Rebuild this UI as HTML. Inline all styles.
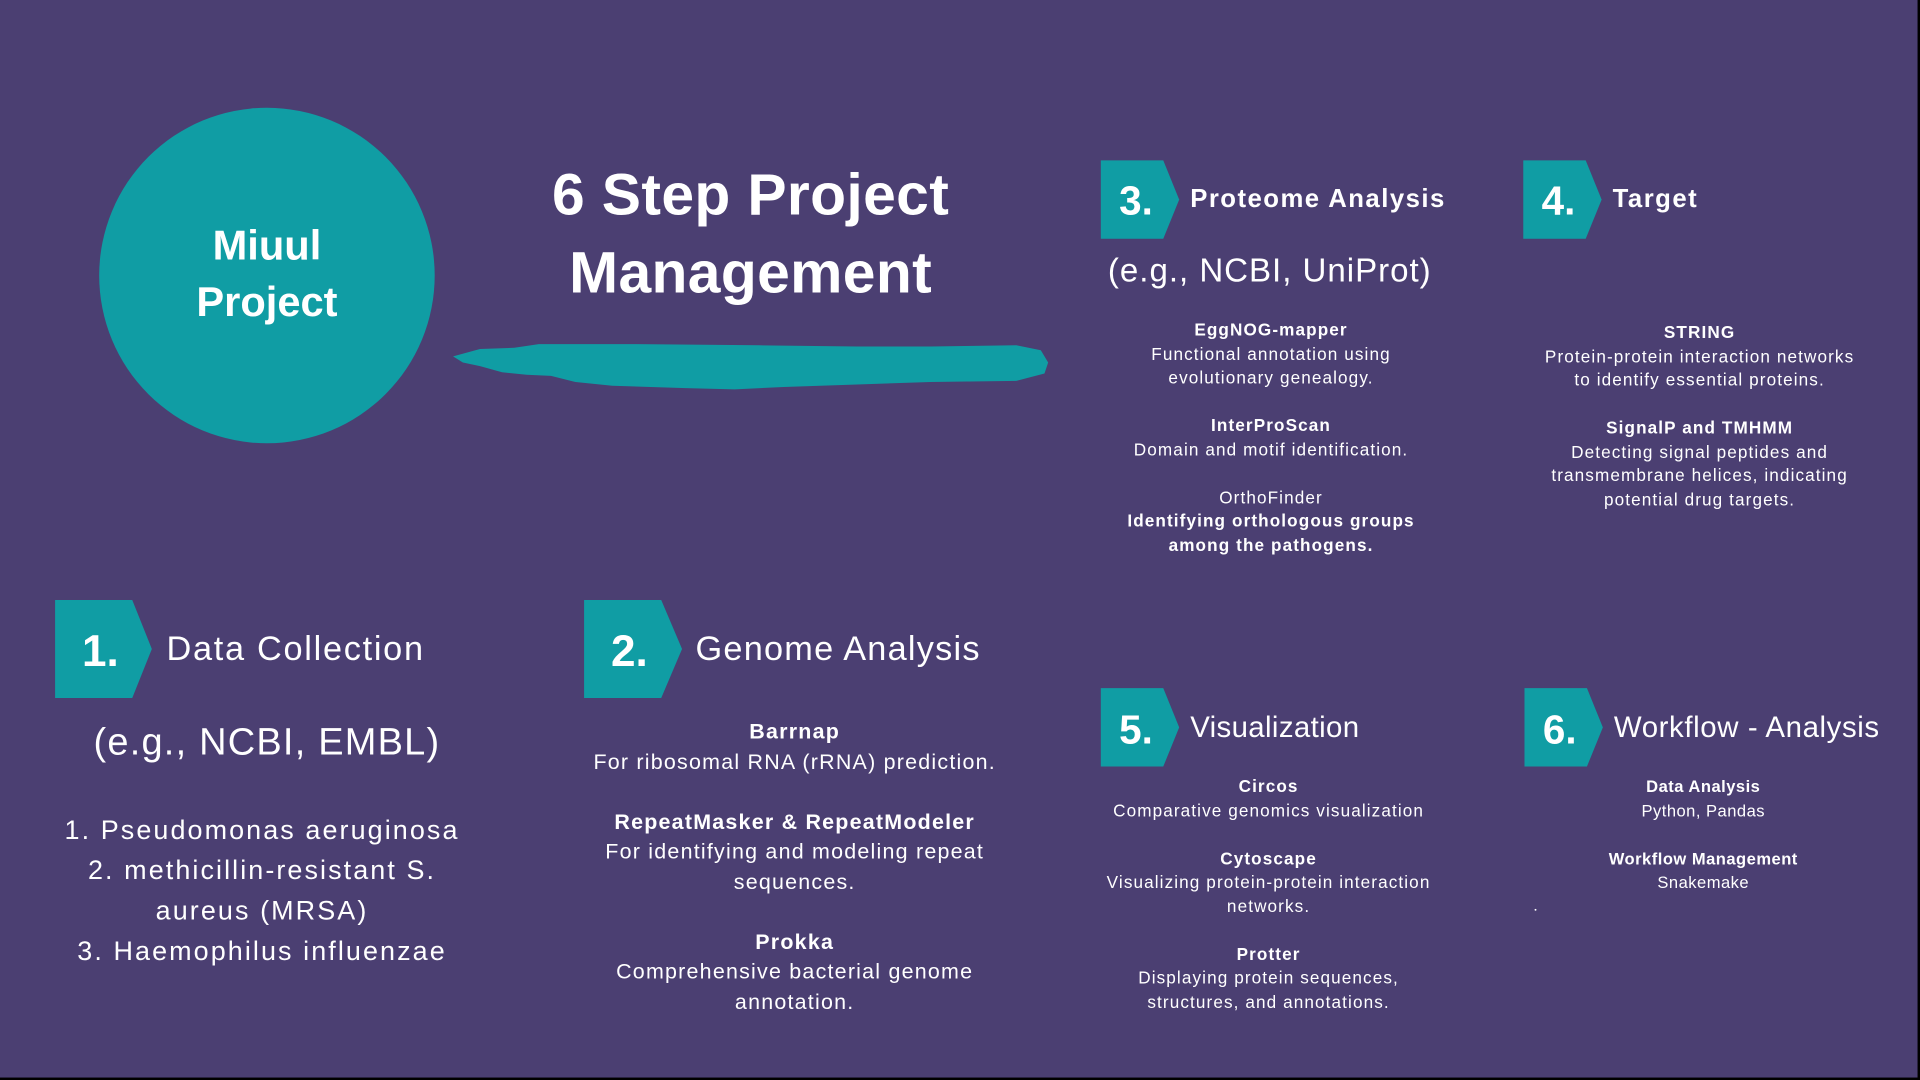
<!DOCTYPE html>
<html><head><meta charset="utf-8">
<style>
html,body{margin:0;padding:0;width:1920px;height:1080px;overflow:hidden;background:#000;}
#s{position:absolute;left:0;top:0;width:1566px;height:880px;background:#4b3f72;transform:scale(1.22449);transform-origin:0 0;font-family:"Liberation Sans",sans-serif;color:#fff;}
.a{position:absolute;white-space:nowrap;}
.c{position:absolute;text-align:center;white-space:nowrap;transform:translateX(-50%);}
.sm{font-size:14px;line-height:19.5px;letter-spacing:0.9px;}
.md{font-size:17.5px;line-height:24.5px;letter-spacing:1px;}
b{font-weight:bold;}
.num{position:absolute;font-weight:bold;font-size:34px;color:#fff;}
</style></head><body>
<div id="s">
<svg class="a" style="left:0;top:0" width="1566" height="880">
<circle cx="218" cy="225" r="137" fill="#109da4"/>
<path d="M370 291 L392 285 L420 284 L440 281 L520 281 L620 282 L700 283 L760 283 L830 282 L850 286 L856 296 L853 305 L830 311 L760 312 L700 314 L640 316 L600 318 L560 317 L500 315 L470 312 L450 307 L430 306 L410 304 L392 299 L378 296 Z" fill="#109da4"/>
<g><polygon points="899,131 950,131 963,163 950,195 899,195" fill="#109da4"/></g>
<g><polygon points="1244,131 1295,131 1308,163 1295,195 1244,195" fill="#109da4"/></g>
<g><polygon points="45,490 108,490 124,530 108,570 45,570" fill="#109da4"/></g>
<g><polygon points="477,490 540,490 557,530 540,570 477,570" fill="#109da4"/></g>
<g><polygon points="899,562 950,562 963,594 950,626 899,626" fill="#109da4"/></g>
<g><polygon points="1245,562 1296,562 1309,594 1296,626 1245,626" fill="#109da4"/></g>
<circle cx="1254" cy="743" r="0.8" fill="#fff"/>
</svg>

<div class="num" style="left:914px;top:145px;font-size:33px">3.</div>
<div class="num" style="left:1259px;top:145px;font-size:33px">4.</div>
<div class="num" style="left:67px;top:511px;font-size:36px">1.</div>
<div class="num" style="left:499px;top:511px;font-size:36px">2.</div>
<div class="num" style="left:914px;top:577px;font-size:33px">5.</div>
<div class="num" style="left:1260px;top:577px;font-size:33px">6.</div>

<div class="c" style="left:218px;top:178px;font-size:34px;line-height:46px;font-weight:bold">Miuul<br>Project</div>
<div class="c" style="left:613px;top:128px;font-size:48px;line-height:64px;font-weight:bold;letter-spacing:0.3px">6 Step Project<br>Management</div>

<div class="a" style="left:972px;top:151px;font-size:21px;font-weight:bold;letter-spacing:1.2px">Proteome Analysis</div>
<div class="a" style="left:1317px;top:151px;font-size:21px;font-weight:bold;letter-spacing:1.2px">Target</div>
<div class="a" style="left:136px;top:514px;font-size:28px;letter-spacing:1.4px">Data Collection</div>
<div class="a" style="left:568px;top:514px;font-size:28px;letter-spacing:1px">Genome Analysis</div>
<div class="a" style="left:972px;top:581px;font-size:24px;letter-spacing:0.3px">Visualization</div>
<div class="a" style="left:1318px;top:581px;font-size:24px;letter-spacing:0.5px">Workflow - Analysis</div>

<div class="c" style="left:1037px;top:206px;font-size:27px;letter-spacing:0.8px">(e.g., NCBI, UniProt)</div>
<div class="c" style="left:218px;top:588px;font-size:31px;letter-spacing:1px">(e.g., NCBI, EMBL)</div>

<div class="c sm" style="left:1038px;top:260px"><b>EggNOG-mapper</b><br>Functional annotation using<br>evolutionary genealogy.<br><div style="height:19.5px"></div><b>InterProScan</b><br>Domain and motif identification.<br><div style="height:19.5px"></div>OrthoFinder<br><b>Identifying orthologous groups<br>among the pathogens.</b></div>

<div class="c sm" style="left:1388px;top:262px"><b>STRING</b><br>Protein-protein interaction networks<br>to identify essential proteins.<br><div style="height:19.5px"></div><b>SignalP and TMHMM</b><br>Detecting signal peptides and<br>transmembrane helices, indicating<br>potential drug targets.</div>

<div class="c md" style="left:649px;top:585px"><b>Barrnap</b><br>For ribosomal RNA (rRNA) prediction.<br><div style="height:24.5px"></div><b>RepeatMasker &amp; RepeatModeler</b><br>For identifying and modeling repeat<br>sequences.<br><div style="height:24.5px"></div><b>Prokka</b><br>Comprehensive bacterial genome<br>annotation.</div>

<div class="c" style="left:214px;top:661px;font-size:22px;line-height:33px;letter-spacing:1.7px">1. Pseudomonas aeruginosa<br>2. methicillin-resistant S.<br>aureus (MRSA)<br>3. Haemophilus influenzae</div>

<div class="c sm" style="left:1036px;top:633px"><b>Circos</b><br>Comparative genomics visualization<br><div style="height:19.5px"></div><b>Cytoscape</b><br>Visualizing protein-protein interaction<br>networks.<br><div style="height:19.5px"></div><b>Protter</b><br>Displaying protein sequences,<br>structures, and annotations.</div>

<div class="c sm" style="left:1391px;top:633px;font-size:13.5px;letter-spacing:0.4px"><b>Data Analysis</b><br>Python, Pandas<br><div style="height:19.5px"></div><b>Workflow Management</b><br>Snakemake</div>
</div>
</body></html>
